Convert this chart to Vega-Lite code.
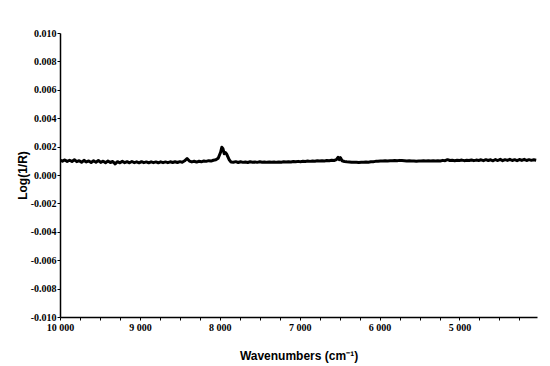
{
  "$schema": "https://vega.github.io/schema/vega-lite/v6.json",
  "width": 477,
  "height": 284,
  "autosize": {"type": "none"},
  "padding": {"left": 60, "top": 33, "right": 13, "bottom": 49},
  "background": "white",
  "config": {
    "view": {"stroke": null},
    "axis": {
      "grid": false,
      "domainColor": "black",
      "domainWidth": 1.5,
      "tickColor": "black",
      "tickWidth": 1,
      "tickSize": 3,
      "labelFont": "Liberation Sans Narrow",
      "labelFontWeight": "bold",
      "labelFontSize": 10,
      "labelColor": "black",
      "titleFont": "Liberation Sans",
      "titleFontWeight": "bold",
      "titleFontSize": 12,
      "titleColor": "black"
    }
  },
  "data": {
    "values": [
      {"w": 10000, "a": 0.00105}, {"w": 9970, "a": 0.00097}, {"w": 9940, "a": 0.00106}, {"w": 9910, "a": 0.00096},
      {"w": 9880, "a": 0.00104}, {"w": 9850, "a": 0.00095}, {"w": 9820, "a": 0.00107}, {"w": 9790, "a": 0.00094},
      {"w": 9760, "a": 0.00101}, {"w": 9730, "a": 0.00090}, {"w": 9700, "a": 0.00103}, {"w": 9670, "a": 0.00092},
      {"w": 9640, "a": 0.00099}, {"w": 9610, "a": 0.00088}, {"w": 9580, "a": 0.00100}, {"w": 9550, "a": 0.00090},
      {"w": 9520, "a": 0.00102}, {"w": 9490, "a": 0.00089}, {"w": 9460, "a": 0.00097}, {"w": 9430, "a": 0.00087},
      {"w": 9400, "a": 0.00098}, {"w": 9370, "a": 0.00088}, {"w": 9340, "a": 0.00095}, {"w": 9310, "a": 0.00078},
      {"w": 9280, "a": 0.00094}, {"w": 9250, "a": 0.00086}, {"w": 9220, "a": 0.00096}, {"w": 9190, "a": 0.00087},
      {"w": 9160, "a": 0.00094}, {"w": 9130, "a": 0.00086}, {"w": 9100, "a": 0.00095}, {"w": 9070, "a": 0.00087},
      {"w": 9040, "a": 0.00093}, {"w": 9010, "a": 0.00086}, {"w": 8980, "a": 0.00094}, {"w": 8950, "a": 0.00087},
      {"w": 8920, "a": 0.00092}, {"w": 8890, "a": 0.00086}, {"w": 8860, "a": 0.00093}, {"w": 8830, "a": 0.00087},
      {"w": 8800, "a": 0.00092}, {"w": 8770, "a": 0.00086}, {"w": 8740, "a": 0.00093}, {"w": 8710, "a": 0.00087},
      {"w": 8680, "a": 0.00092}, {"w": 8650, "a": 0.00087}, {"w": 8620, "a": 0.00093}, {"w": 8590, "a": 0.00088},
      {"w": 8560, "a": 0.00093}, {"w": 8530, "a": 0.00088}, {"w": 8500, "a": 0.00094}, {"w": 8470, "a": 0.00090},
      {"w": 8440, "a": 0.00100}, {"w": 8410, "a": 0.00116}, {"w": 8380, "a": 0.00098}, {"w": 8350, "a": 0.00092},
      {"w": 8320, "a": 0.00097}, {"w": 8290, "a": 0.00091}, {"w": 8260, "a": 0.00097}, {"w": 8230, "a": 0.00093},
      {"w": 8200, "a": 0.00099}, {"w": 8170, "a": 0.00096}, {"w": 8140, "a": 0.00101}, {"w": 8110, "a": 0.00098},
      {"w": 8080, "a": 0.00104}, {"w": 8050, "a": 0.00107}, {"w": 8020, "a": 0.00118}, {"w": 7990, "a": 0.00160},
      {"w": 7975, "a": 0.00195}, {"w": 7960, "a": 0.00185}, {"w": 7945, "a": 0.00150}, {"w": 7930, "a": 0.00158},
      {"w": 7915, "a": 0.00148}, {"w": 7900, "a": 0.00130}, {"w": 7880, "a": 0.00105}, {"w": 7860, "a": 0.00092},
      {"w": 7830, "a": 0.00090}, {"w": 7800, "a": 0.00094}, {"w": 7770, "a": 0.00088}, {"w": 7740, "a": 0.00093},
      {"w": 7710, "a": 0.00089}, {"w": 7680, "a": 0.00092}, {"w": 7650, "a": 0.00088}, {"w": 7620, "a": 0.00093},
      {"w": 7590, "a": 0.00090}, {"w": 7560, "a": 0.00092}, {"w": 7530, "a": 0.00089}, {"w": 7500, "a": 0.00093},
      {"w": 7470, "a": 0.00090}, {"w": 7440, "a": 0.00092}, {"w": 7410, "a": 0.00089}, {"w": 7380, "a": 0.00091},
      {"w": 7350, "a": 0.00090}, {"w": 7320, "a": 0.00092}, {"w": 7290, "a": 0.00089}, {"w": 7260, "a": 0.00091},
      {"w": 7230, "a": 0.00090}, {"w": 7200, "a": 0.00093}, {"w": 7170, "a": 0.00091}, {"w": 7140, "a": 0.00094},
      {"w": 7110, "a": 0.00092}, {"w": 7080, "a": 0.00095}, {"w": 7050, "a": 0.00093}, {"w": 7020, "a": 0.00096},
      {"w": 6990, "a": 0.00094}, {"w": 6960, "a": 0.00097}, {"w": 6930, "a": 0.00095}, {"w": 6900, "a": 0.00098},
      {"w": 6870, "a": 0.00096}, {"w": 6840, "a": 0.00099}, {"w": 6810, "a": 0.00097}, {"w": 6780, "a": 0.00100},
      {"w": 6750, "a": 0.00098}, {"w": 6720, "a": 0.00101}, {"w": 6690, "a": 0.00099}, {"w": 6660, "a": 0.00102},
      {"w": 6630, "a": 0.00100}, {"w": 6600, "a": 0.00104}, {"w": 6570, "a": 0.00102}, {"w": 6540, "a": 0.00108},
      {"w": 6520, "a": 0.00125}, {"w": 6505, "a": 0.00108}, {"w": 6490, "a": 0.00122}, {"w": 6470, "a": 0.00100},
      {"w": 6440, "a": 0.00095}, {"w": 6410, "a": 0.00093}, {"w": 6380, "a": 0.00092}, {"w": 6350, "a": 0.00090},
      {"w": 6320, "a": 0.00089}, {"w": 6290, "a": 0.00090}, {"w": 6260, "a": 0.00088}, {"w": 6230, "a": 0.00090},
      {"w": 6200, "a": 0.00089}, {"w": 6170, "a": 0.00091}, {"w": 6140, "a": 0.00090}, {"w": 6110, "a": 0.00093},
      {"w": 6080, "a": 0.00094}, {"w": 6050, "a": 0.00096}, {"w": 6020, "a": 0.00097}, {"w": 5990, "a": 0.00099},
      {"w": 5960, "a": 0.00098}, {"w": 5930, "a": 0.00100}, {"w": 5900, "a": 0.00099}, {"w": 5870, "a": 0.00101},
      {"w": 5840, "a": 0.00100}, {"w": 5810, "a": 0.00102}, {"w": 5780, "a": 0.00101}, {"w": 5750, "a": 0.00103},
      {"w": 5720, "a": 0.00102}, {"w": 5690, "a": 0.00101}, {"w": 5660, "a": 0.00099}, {"w": 5630, "a": 0.00100},
      {"w": 5600, "a": 0.00098}, {"w": 5570, "a": 0.00099}, {"w": 5540, "a": 0.00097}, {"w": 5510, "a": 0.00099},
      {"w": 5480, "a": 0.00098}, {"w": 5450, "a": 0.00100}, {"w": 5420, "a": 0.00099}, {"w": 5390, "a": 0.00101},
      {"w": 5360, "a": 0.00099}, {"w": 5330, "a": 0.00100}, {"w": 5300, "a": 0.00098}, {"w": 5270, "a": 0.00100},
      {"w": 5240, "a": 0.00099}, {"w": 5210, "a": 0.00103}, {"w": 5180, "a": 0.00101}, {"w": 5150, "a": 0.00108},
      {"w": 5120, "a": 0.00102}, {"w": 5090, "a": 0.00104}, {"w": 5060, "a": 0.00101}, {"w": 5030, "a": 0.00104},
      {"w": 5000, "a": 0.00102}, {"w": 4970, "a": 0.00105}, {"w": 4940, "a": 0.00101}, {"w": 4910, "a": 0.00104},
      {"w": 4880, "a": 0.00102}, {"w": 4850, "a": 0.00106}, {"w": 4820, "a": 0.00101}, {"w": 4790, "a": 0.00105},
      {"w": 4760, "a": 0.00102}, {"w": 4730, "a": 0.00107}, {"w": 4700, "a": 0.00101}, {"w": 4670, "a": 0.00108},
      {"w": 4640, "a": 0.00102}, {"w": 4610, "a": 0.00107}, {"w": 4580, "a": 0.00100}, {"w": 4550, "a": 0.00109},
      {"w": 4520, "a": 0.00102}, {"w": 4490, "a": 0.00110}, {"w": 4460, "a": 0.00101}, {"w": 4430, "a": 0.00108},
      {"w": 4400, "a": 0.00103}, {"w": 4370, "a": 0.00110}, {"w": 4340, "a": 0.00102}, {"w": 4310, "a": 0.00108},
      {"w": 4280, "a": 0.00101}, {"w": 4250, "a": 0.00109}, {"w": 4220, "a": 0.00103}, {"w": 4190, "a": 0.00110},
      {"w": 4160, "a": 0.00102}, {"w": 4130, "a": 0.00108}, {"w": 4100, "a": 0.00103}, {"w": 4070, "a": 0.00107},
      {"w": 4040, "a": 0.00104}
    ]
  },
  "mark": {"type": "line", "color": "black", "strokeWidth": 3, "strokeJoin": "round", "clip": true},
  "encoding": {
    "x": {
      "field": "w",
      "type": "quantitative",
      "scale": {"domain": [4030, 10000], "reverse": true, "nice": false, "zero": false},
      "axis": {
        "title": "Wavenumbers (cm⁻¹)",
        "values": [10000, 9750, 9500, 9250, 9000, 8750, 8500, 8250, 8000, 7750, 7500, 7250, 7000, 6750, 6500, 6250, 6000, 5750, 5500, 5250, 5000, 4750, 4500, 4250],
        "labelExpr": "datum.value % 1000 === 0 ? replace(format(datum.value, ','), ',', ' ') : ''",
        "labelFlush": false,
        "labelOverlap": false,
        "labelPadding": 2,
        "titleY": 38,
        "titleBaseline": "middle"
      }
    },
    "y": {
      "field": "a",
      "type": "quantitative",
      "scale": {"domain": [-0.01, 0.01], "nice": false, "zero": false},
      "axis": {
        "title": "Log(1/R)",
        "values": [-0.01, -0.008, -0.006, -0.004, -0.002, 0, 0.002, 0.004, 0.006, 0.008, 0.01],
        "labelExpr": "replace(format(datum.value, '.3f'), '−', '-')",
        "labelPadding": 1,
        "labelFlush": false,
        "labelOverlap": false,
        "titleX": -38,
        "titleY": 142,
        "titleAngle": -90,
        "titleBaseline": "middle",
        "titleAlign": "center"
      }
    }
  }
}
